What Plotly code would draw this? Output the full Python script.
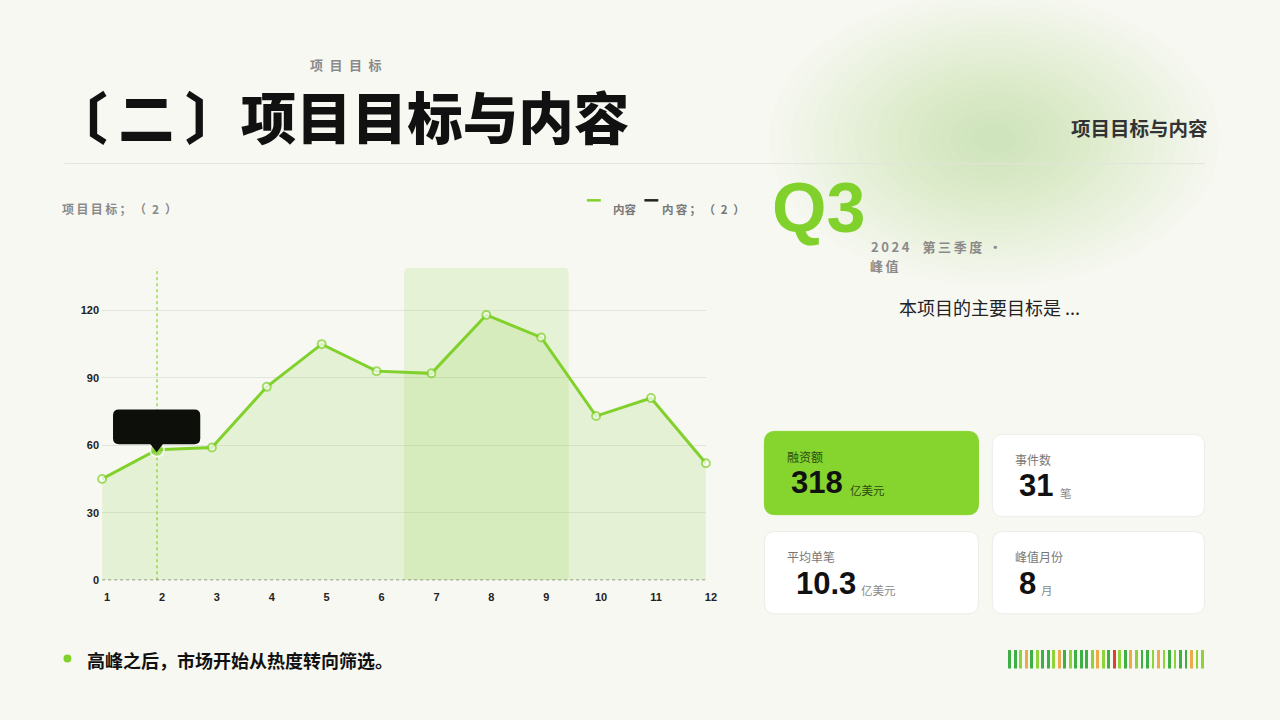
import plotly.graph_objects as go

W, H = 1280, 720

# ---------------- data ----------------
MONTHS = [1, 2, 3, 4, 5, 6, 7, 8, 9, 10, 11, 12]
VALUES = [45, 58, 59, 86, 105, 93, 92, 118, 108, 73, 81, 52]
Y_TICKS = [0, 30, 60, 90, 120]
HIGHLIGHT_MONTH = 2
Q3_START, Q3_END = 7, 9

TITLE = "〔\u2009二\u2009〕项目目标与内容"
SERIES_NAME = "内容"

KPI_LABELS = ["融资额", "事件数", "平均单笔", "峰值月份"]
KPI_VALUES = ["318", "31", "10.3", "8"]
KPI_UNITS = ["亿美元", "笔", "亿美元", "月"]

BAR_COLORS = ["dg", "dg", "lg", "o", "dg", "lg", "dg", "dg", "lg", "o", "dg", "lg",
              "dg", "dg", "dg", "lg", "o", "lg", "dg", "r", "lg", "dg", "o", "lg",
              "dg", "dg", "lg", "o", "lg", "dg", "lg", "dg", "dg", "o", "lg", "lg"]
BAR_HEIGHTS = [1] * len(BAR_COLORS)

# ---------------- styles ----------------
BG = "#f7f8f2"
GREEN = "#80d12b"
CARD_GREEN = "#86d42e"
CJK = "Noto Sans CJK SC, Noto Sans, sans-serif"
LAT = "Liberation Sans, Arial, Noto Sans CJK SC, sans-serif"
PALETTE = {"dg": "#3daf45", "lg": "#8fd33a", "o": "#eea94a", "r": "#e2402f"}


def px(x, y):
    return x / W, 1 - y / H


def spaced(s, sep="\u2009"):
    return sep.join(list(s))


def rrect_path(x0, y0, x1, y1, r):
    pts = [("M", [(x0 + r, y0)]), ("L", [(x1 - r, y0)]), ("Q", [(x1, y0), (x1, y0 + r)]),
           ("L", [(x1, y1 - r)]), ("Q", [(x1, y1), (x1 - r, y1)]), ("L", [(x0 + r, y1)]),
           ("Q", [(x0, y1), (x0, y1 - r)]), ("L", [(x0, y0 + r)]), ("Q", [(x0, y0), (x0 + r, y0)])]
    s = ""
    for cmd, ps in pts:
        s += cmd + " " + " ".join("%.5f,%.5f" % px(a, b) for a, b in ps) + " "
    return s + "Z"


shapes = []
annotations = []


def ann(text, x, y, size, color, family=CJK, xanchor="left", weight="normal"):
    xp, yp = px(x, y)
    annotations.append(dict(
        text=text, x=xp, y=yp, xref="paper", yref="paper",
        xanchor=xanchor, yanchor="middle", showarrow=False,
        font=dict(size=size, color=color, family=family, weight=weight)))


# ---- glow (top right) ----
N = 20
for i in range(N):
    f = 1 - i / N
    rx, ry = 215 * f + 12, 140 * f + 8
    gx, gy = 1003, 140
    x0, y0 = px(gx - rx, gy + ry)
    x1, y1 = px(gx + rx, gy - ry)
    shapes.append(dict(type="circle", xref="paper", yref="paper", x0=x0, y0=y0, x1=x1, y1=y1,
                       fillcolor="rgba(165,224,88,0.021)", line=dict(width=0), layer="below"))

# divider
a, b = px(65, 165)
c, d = px(1215, 165)
shapes.append(dict(type="line", xref="paper", yref="paper", x0=a, y0=b, x1=c, y1=d,
                   line=dict(color="#e2e4dc", width=1)))

# ---- header texts ----
ann("项\u2002目\u2002目\u2002标", 349, 65, 13, "#8a8a8a", xanchor="center", weight="bold")
ann(TITLE, 50, 116, 55.5, "#111111", weight=900)
ann("项目目标与内容", 1220, 129, 19.5, "#333333", xanchor="right", weight="bold")

# ---- chart subtitle & legend ----
ann(spaced("项目目标；（") + "\u20022\u2002）", 61, 210, 12, "#8a8a8a", weight="bold")
for (x0, x1, col) in [(592, 606, GREEN), (650, 664, "#222222")]:
    a, b = px(x0, 202)
    c, d = px(x1, 202)
    shapes.append(dict(type="line", xref="paper", yref="paper", x0=a, y0=b, x1=c, y1=d,
                       line=dict(color=col, width=2.5)))
ann(SERIES_NAME, 616, 211, 11.5, "#777777", weight="bold")
ann(spaced("内容；（") + "\u20022\u2002）", 666, 211, 11.5, "#777777", weight="bold")

# ---- Q3 block ----
ann("Q3", 777, 210, 70, GREEN, family=LAT, weight="bold")
ann("2\u20090\u20092\u20094\u2003第\u2009三\u2009季\u2009度\u2002·", 877, 249, 13, "#8a8a8a", weight="bold")
ann("峰\u2009值", 876, 268, 13, "#8a8a8a", weight="bold")
ann("本项目的主要目标是 ...", 998, 310, 18, "#222222", xanchor="center")

# ---- KPI cards ----
cards = [(771, 435, 987, 519), (1001, 438, 1215, 521), (771, 536, 987, 619), (1001, 536, 1215, 619)]
for i, (x0, y0, x1, y1) in enumerate(cards):
    hot = i == 0
    shapes.append(dict(type="path", xref="paper", yref="paper", path=rrect_path(x0, y0, x1, y1, 11),
                       fillcolor=CARD_GREEN if hot else "#ffffff",
                       line=dict(color=CARD_GREEN if hot else "#ecede8", width=1)))
    lab_c = "#2e4a12" if hot else "#777777"
    unit_c = "#2e4a12" if hot else "#888888"
    ann(KPI_LABELS[i], x0 + 21, y0 + 25, 12, lab_c)
    nx = x0 + 25 if i != 2 else x0 + 30
    ann(KPI_VALUES[i], nx, y0 + 52, 31, "#111111", family=LAT, weight="bold")
    wid = {"318": 56, "31": 38, "10.3": 62, "8": 19}[KPI_VALUES[i]]
    ann(KPI_UNITS[i], nx + wid + 3, y0 + 59, 11.5, unit_c)

# ---- bottom note ----
a, b = px(64, 660)
c, d = px(72, 668)
shapes.append(dict(type="circle", xref="paper", yref="paper", x0=a, y0=b, x1=c, y1=d,
                   fillcolor=GREEN, line=dict(width=0)))
ann("高峰之后，市场开始从热度转向筛选。", 86, 666, 18, "#111111", weight="bold")

# ---- chart shapes (data coords) ----
YMAX = 139
rx, ry = 0.1, 2.4
xa, xb = Q3_START - 0.5, Q3_END + 0.5
path = ("M %f,0 L %f,%f Q %f,%f %f,%f L %f,%f Q %f,%f %f,%f L %f,0 Z" %
        (xa, xa, YMAX - ry, xa, YMAX, xa + rx, YMAX, xb - rx, YMAX, xb, YMAX, xb, YMAX - ry, xb))
shapes.append(dict(type="path", xref="x", yref="y", path=path,
                   fillcolor="rgba(150,215,75,0.17)", line=dict(width=0), layer="between"))
shapes.append(dict(type="line", xref="x", yref="y", x0=HIGHLIGHT_MONTH, x1=HIGHLIGHT_MONTH, y0=0, y1=YMAX,
                   line=dict(color="#9bd94f", width=1.5, dash="dot"), layer="between"))
shapes.append(dict(type="line", xref="x", yref="y", x0=MONTHS[0], x1=MONTHS[-1], y0=0, y1=0,
                   line=dict(color="#777777", width=1.5, dash="dot"), layer="between"))

# tooltip (empty black bubble)
shapes.append(dict(type="path", xref="paper", yref="paper", path=rrect_path(114, 413, 202, 448, 6),
                   fillcolor="#0d0f0b", line=dict(width=0)))
tp = [px(151, 447), px(165, 447), px(158, 456)]
shapes.append(dict(type="path", xref="paper", yref="paper",
                   path="M %f,%f L %f,%f L %f,%f Z" % (tp[0] + tp[1] + tp[2]),
                   fillcolor="#0d0f0b", line=dict(width=0)))

# ---------------- traces ----------------
sizes = [14 if m == HIGHLIGHT_MONTH else 8 for m in MONTHS]
fills = [GREEN if m == HIGHLIGHT_MONTH else "#ffffff" for m in MONTHS]
lcols = ["#ffffff" if m == HIGHLIGHT_MONTH else GREEN for m in MONTHS]

fig = go.Figure()
fig.add_trace(go.Scatter(
    x=MONTHS, y=VALUES, mode="lines+markers", name=SERIES_NAME,
    line=dict(color=GREEN, width=3), fill="tozeroy", fillcolor="rgba(135,208,55,0.16)",
    marker=dict(size=sizes, color=fills, line=dict(color=lcols, width=2)),
    cliponaxis=False, showlegend=False, hoverinfo="skip"))

fig.add_trace(go.Bar(
    x=list(range(len(BAR_COLORS))), y=BAR_HEIGHTS, xaxis="x2", yaxis="y2",
    marker=dict(color=[PALETTE[c] for c in BAR_COLORS], cornerradius=2, line=dict(width=0)),
    width=0.52, showlegend=False, hoverinfo="skip"))

TICKFONT = dict(size=11, color="#222222", family="Liberation Sans, Arial", weight="bold")

fig.update_layout(
    width=W, height=H, margin=dict(l=0, r=0, t=0, b=0),
    paper_bgcolor=BG, plot_bgcolor="rgba(0,0,0,0)",
    shapes=shapes, annotations=annotations, showlegend=False,
    xaxis=dict(domain=[103 / W, 712 / W], range=[1, 12], tickvals=MONTHS,
               ticktext=[str(m) for m in MONTHS], showgrid=False, zeroline=False,
               showline=False, ticks="", fixedrange=True, tickfont=TICKFONT,
               ticklabelstandoff=9, ticklabelshift=5),
    yaxis=dict(domain=[1 - 585 / H, 1 - 270 / H], range=[0, YMAX], tickvals=Y_TICKS,
               showgrid=True, gridcolor="#e3e5dd", gridwidth=1, zeroline=False,
               showline=False, ticks="", fixedrange=True, tickfont=TICKFONT,
               ticklabelstandoff=2),
    xaxis2=dict(domain=[1016 / W, 1216 / W], range=[-0.5, len(BAR_COLORS) - 0.5], visible=False,
                anchor="y2", fixedrange=True),
    yaxis2=dict(domain=[1 - 674 / H, 1 - 655 / H], range=[0, 1], visible=False,
                anchor="x2", fixedrange=True),
    bargap=0,
)

fig.write_html("out.html", config={"displayModeBar": False},
               post_script="document.documentElement.style.margin='0';document.body.style.margin='0';document.body.style.overflow='hidden';")
